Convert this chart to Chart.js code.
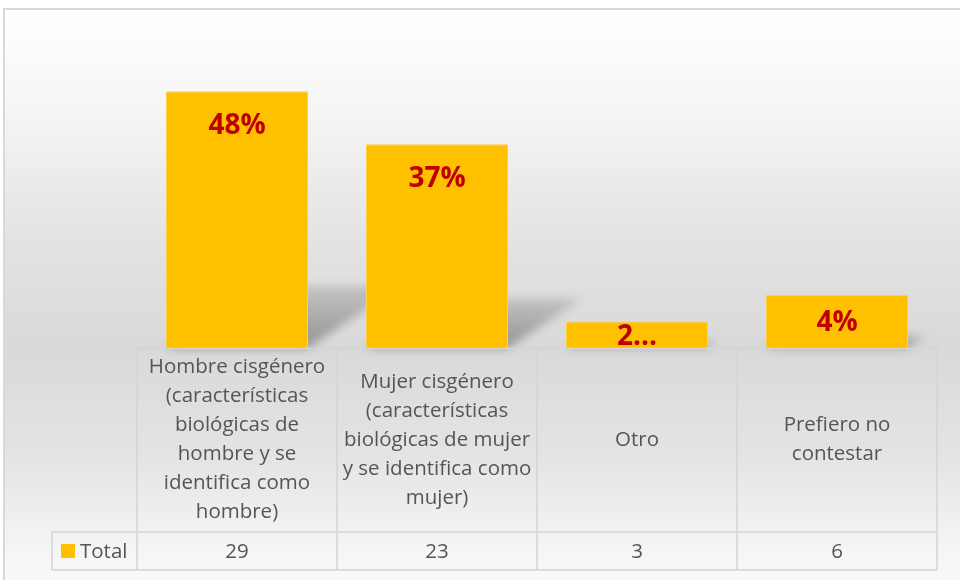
<!DOCTYPE html>
<html>
<head>
<meta charset="utf-8">
<script src="https://cdn.jsdelivr.net/npm/chart.js@4.4.1/dist/chart.umd.min.js"></script>
<style>
  html, body { margin: 0; padding: 0; background: #ffffff; }
  #wrap { position: absolute; left: 0; top: 0; width: 960px; height: 580px; overflow: hidden; }
  #frame { position: absolute; left: 3px; top: 8px; width: 1000px; height: 620px;
    border: 2px solid #d9d9d9;
    background: linear-gradient(to bottom, #ffffff 0%, #f6f6f6 15%, #e2e2e2 38%, #d9d9d9 55%, #e4e4e4 72%, #f6f6f6 88%, #ffffff 100%); }
  #c { position: absolute; left: 0; top: 0; }
</style>
</head>
<body>
<div id="wrap">
  <div id="frame"></div>
  <canvas id="c" width="960" height="580"></canvas>
</div>
<script>
// ---- data ----
const categories = [
  ["Hombre cisgénero", "(características", "biológicas de", "hombre y se", "identifica como", "hombre)"],
  ["Mujer cisgénero", "(características", "biológicas de mujer", "y se identifica como", "mujer)"],
  ["Otro"],
  ["Prefiero no", "contestar"]
];
const seriesName = "Total";
const totals = [29, 23, 3, 6];
const pctLabels = ["48%", "37%", "2...", "4%"];
const yMax = 35;

const BAR = "#ffc000";
const TXT = "#555555";
const LINE = "#d4d4d4";
const FONT = "'Open Sans', 'Noto Sans', sans-serif";

const shadowPlugin = {
  id: 'barShadow',
  beforeDatasetsDraw(chart) {
    const ctx = chart.ctx;
    const meta = chart.getDatasetMeta(0);
    ctx.save();
    ctx.filter = 'blur(5px)';
    meta.data.forEach(el => {
      const p = el.getProps(['x', 'y', 'base', 'width'], true);
      const h = p.base - p.y;
      const sh = h * 0.24, dx = sh * 1.5;
      const l = p.x - p.width / 2, r = p.x + p.width / 2;
      const g = ctx.createLinearGradient(0, p.base, 0, p.base - sh);
      g.addColorStop(0, 'rgba(0,0,0,0.32)');
      g.addColorStop(1, 'rgba(0,0,0,0.12)');
      ctx.fillStyle = g;
      ctx.beginPath();
      ctx.moveTo(l, p.base);
      ctx.lineTo(r, p.base);
      ctx.lineTo(r + dx, p.base - sh);
      ctx.lineTo(l + dx, p.base - sh);
      ctx.closePath();
      ctx.fill();
    });
    ctx.restore();
  }
};

const labelPlugin = {
  id: 'barLabels',
  afterDatasetsDraw(chart) {
    const ctx = chart.ctx;
    const meta = chart.getDatasetMeta(0);
    const a = chart.chartArea;
    ctx.save();
    ctx.beginPath();
    ctx.rect(a.left, a.top, a.right - a.left, a.bottom - a.top);
    ctx.clip();
    ctx.font = "bold 28px " + FONT;
    ctx.fillStyle = "#c00000";
    ctx.textAlign = 'center';
    ctx.textBaseline = 'middle';
    meta.data.forEach((el, i) => {
      const p = el.getProps(['x', 'y', 'base'], true);
      const cy = Math.min(p.y + 35, (p.y + p.base) / 2 + 2);
      ctx.fillText(pctLabels[i], p.x, cy);
    });
    ctx.restore();
  }
};

const tablePlugin = {
  id: 'dataTable',
  afterDraw(chart) {
    const ctx = chart.ctx;
    const xs = chart.scales.x;
    const a = chart.chartArea;
    const n = categories.length;
    const colW = (a.right - a.left) / n;
    const top = a.bottom, mid = top + 184, bot = mid + 38;
    const legL = 52;
    ctx.save();
    ctx.strokeStyle = LINE;
    ctx.lineWidth = 1.5;
    ctx.beginPath();
    ctx.moveTo(a.left, top + 0.5); ctx.lineTo(a.right, top + 0.5);
    ctx.moveTo(legL, mid); ctx.lineTo(a.right, mid);
    ctx.moveTo(legL, bot); ctx.lineTo(a.right, bot);
    ctx.moveTo(legL, mid); ctx.lineTo(legL, bot);
    for (let i = 0; i <= n; i++) {
      const x = a.left + i * colW;
      ctx.moveTo(x, top); ctx.lineTo(x, bot);
    }
    ctx.stroke();
    ctx.fillStyle = TXT;
    ctx.font = "20.5px " + FONT;
    ctx.textAlign = 'center';
    ctx.textBaseline = 'middle';
    const lh = 29;
    const cMid = (top + mid) / 2;
    categories.forEach((lines, i) => {
      const x = xs.getPixelForValue(i);
      const y0 = cMid - (lines.length - 1) * lh / 2;
      lines.forEach((t, j) => ctx.fillText(t, x, y0 + j * lh));
      ctx.fillText(String(totals[i]), x, (mid + bot) / 2 + 1);
    });
    ctx.fillStyle = BAR;
    ctx.fillRect(61, (mid + bot) / 2 - 7, 14, 14);
    ctx.fillStyle = TXT;
    ctx.textAlign = 'left';
    ctx.fillText(seriesName, 80, (mid + bot) / 2 + 1);
    ctx.restore();
  }
};

new Chart(document.getElementById('c'), {
  type: 'bar',
  data: {
    labels: categories.map(l => l.join(' ')),
    datasets: [{
      label: seriesName,
      data: totals,
      backgroundColor: BAR,
      borderColor: '#ffd04a',
      borderWidth: 1,
      barPercentage: 0.71,
      categoryPercentage: 1.0
    }]
  },
  options: {
    responsive: false,
    animation: false,
    devicePixelRatio: 1,
    layout: { padding: { left: 137, right: 23, top: 38, bottom: 10 } },
    plugins: { legend: { display: false }, tooltip: { enabled: false } },
    scales: {
      x: {
        grid: { display: false },
        border: { display: false },
        ticks: { display: false },
        afterFit(scale) { scale.height = 222; }
      },
      y: {
        display: false,
        min: 0,
        max: yMax
      }
    }
  },
  plugins: [shadowPlugin, labelPlugin, tablePlugin]
});
</script>
</body>
</html>
